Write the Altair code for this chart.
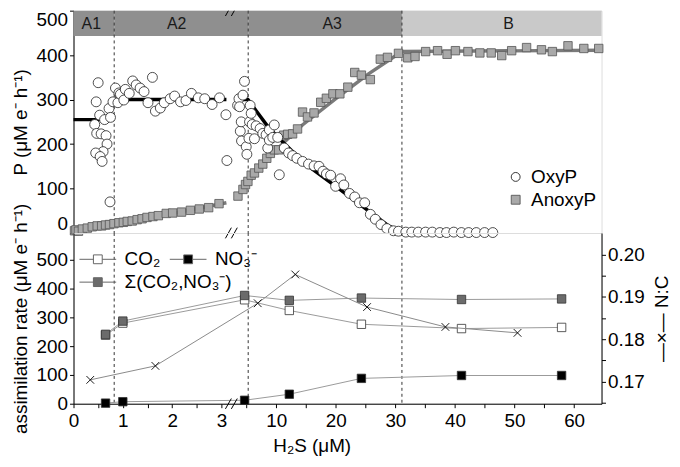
import altair as alt
import pandas as pd

FONT = "Liberation Sans"

# ---------------- data ----------------
# top panel: photosynthesis rates vs H2S
oxy_h2s = [0.50, 0.46, 0.43, 0.53, 0.47, 0.56, 0.66, 0.68, 0.60, 0.45, 0.54, 0.58, 0.63, 0.72,
           0.75, 0.74, 0.85, 0.80, 0.90, 0.92, 0.95, 1.02, 1.05, 1.13, 1.20, 1.27, 1.35, 1.43,
           1.51, 1.60, 1.66, 1.76, 1.84, 1.96, 2.05, 2.17, 2.28, 2.39, 2.53, 2.66, 2.81, 2.96,
           3.09, 3.11,
           3.52, 3.75, 3.85, 3.97, 4.13, 4.18, 4.42, 4.68, 4.97, 5.08, 5.42, 5.52, 5.63, 5.80,
           5.97, 6.35, 6.63, 7.30, 7.75, 8.30, 8.58, 8.85, 8.85, 9.42, 9.68, 10.25, 10.52, 11.35,
           12.08, 12.75, 13.47, 14.42, 15.42, 16.35, 17.18, 17.85, 18.42, 19.13, 19.97, 20.80,
           21.35, 22.30, 23.18, 23.97, 24.85, 25.80, 26.63, 27.58, 28.58, 29.68, 30.52, 31.75,
           32.75, 33.85, 35.07, 36.20, 37.47, 38.58, 39.80, 41.08, 42.30, 43.58, 44.97, 46.35]
oxy_p = [338, 295, 244, 265, 224, 223, 219, 200, 183, 180, 172, 161, 255, 280,
         260, 70, 326, 295, 293, 315, 312, 299, 323, 314, 342, 333, 326, 318,
         293, 350, 274, 281, 293, 302, 308, 295, 298, 314, 304, 302, 289, 304,
         266, 163,
         287, 302, 284, 229, 250, 207, 310, 341, 194, 177, 213, 250, 287, 269,
         244, 212, 241, 235, 224, 221, 191, 232, 209, 215, 243, 215, 131, 191,
         180, 174, 168, 161, 155, 151, 150, 139, 133, 130, 105, 122,
         108, 89, 81, 68, 68, 42, 31, 19, 10, 5, 4, 2,
         2, 2, 2, 2, 1, 1, 2, 1, 1, 1, 1, 1]

anoxy_h2s = [0.02, 0.05, 0.10, 0.18, 0.28, 0.38, 0.48, 0.57, 0.65, 0.73, 0.82, 0.92, 1.01, 1.09,
             1.19, 1.29, 1.39, 1.49, 1.61, 1.72, 1.88, 2.01, 2.19, 2.37, 2.55, 2.74, 2.95,
             3.58, 4.42, 4.85, 5.25, 5.80, 6.35, 7.08, 7.75, 8.42, 9.02, 9.68, 10.42, 11.25,
             11.92, 12.75, 13.58, 14.42, 15.25, 16.35, 17.47, 18.42, 19.52, 20.68, 22.02,
             23.18, 24.30, 25.80, 27.47, 28.68, 30.52, 32.08, 33.30, 35.08, 37.08, 38.68,
             40.08, 42.18, 44.18, 46.08, 47.85, 49.52, 52.02, 54.52, 56.35, 58.97, 61.63, 64.13]
anoxy_p = [5, 7, 4, 9, 11, 14, 16, 16, 18, 19, 21, 23, 24, 26,
           27, 30, 32, 35, 37, 39, 44, 45, 47, 51, 54, 57, 66,
           83, 98, 109, 116, 130, 135, 146, 155, 168, 179, 187, 187, 220,
           222, 223, 234, 272, 261, 270, 294, 303, 313, 313, 328,
           361, 355, 345, 391, 395, 404, 394, 397, 408, 410, 402,
           410, 408, 405, 405, 399, 410, 417, 412, 408, 421, 415, 415]

# fitted model lines (segments split at the axis break and phase boundaries)
oxy_fit_seg = ["a", "a", "b", "b", "c", "c", "c", "c", "c", "c", "c", "c", "c"]
oxy_fit_h2s = [0, 0.825, 0.825, 3.1, 3.5, 5.25, 8.85, 11.6, 15.0, 20.0, 25.5, 28.85, 31.1]
oxy_fit_p = [255, 255, 300, 300, 300, 300, 235, 198, 154, 105, 50, 16, 2]

anoxy_fit_seg = ["a", "a", "b", "b", "b", "b", "b", "b", "b", "b", "b"]
anoxy_fit_h2s = [0, 3.1, 3.5, 5.3, 7.5, 10.0, 14.4, 20.0, 25.5, 31.1, 64.6]
anoxy_fit_p = [0, 68, 82, 112, 150, 187, 243, 302, 358, 408, 411]

# phases
phase_names = ["A1", "A2", "A3", "B"]
phase_start = [0, 0.825, 5.3, 31.1]
phase_end = [0.825, 5.3, 31.1, 64.6]
phase_label_h2s = [0.36, 2.09, 19.4, 49.0]
boundaries = [0.825, 5.3, 31.1]

# bottom panel: assimilation rates and N:C
gas_h2s = [0.65, 1.0, 4.7, 12.2, 24.3, 41.1, 57.9]
co2 = [238, 280, 361, 324, 276, 261, 265]
no3 = [2, 7, 12, 33, 88, 98, 98]
sigma = [241, 287, 376, 359, 367, 362, 364]
nc_h2s = [0.34, 1.66, 6.9, 13.2, 25.25, 38.4, 50.5]
nc = [0.1704, 0.1737, 0.1885, 0.1953, 0.1876, 0.1829, 0.1815]

x_major = [0, 1, 2, 3, 10, 20, 30, 40, 50, 60]
x_minor = [0.5, 1.5, 2.5, 5, 15, 25, 35, 45, 55]
nc_major = [0.17, 0.18, 0.19, 0.20]
nc_minor = [0.165, 0.175, 0.185, 0.195]
p_ticks = [0, 100, 200, 300, 400, 500]

# axis-break marks (two slashes straddling each broken border)
brk_x_start = [3.08, 3.20]
brk_x_end = [3.20, 3.47]

# ---------------- scales ----------------
W = 532
x_scale = alt.Scale(domain=[0, 3.3, 64.6], range=[0, 164, W], nice=False, zero=False)
y_top = alt.Scale(domain=[0, 500], nice=False, zero=False)
y_bot = alt.Scale(domain=[0, 593], nice=False, zero=False)
y_nc = alt.Scale(domain=[0.16476, 0.2051], nice=False, zero=False)

axis_common = dict(labelFontSize=19, titleFontSize=19, labelFont=FONT, titleFont=FONT,
                   tickSize=4, tickColor="black", domainColor="black", labelColor="black",
                   titleColor="black", titleFontWeight="normal", grid=False,
                   labelOverlap=False)

# ---------------- top panel ----------------
bands = pd.DataFrame({"phase": phase_names, "start": phase_start, "end": phase_end,
                      "lab": phase_label_h2s})
y_axis_top = alt.Axis(values=p_ticks, title="P (μM e⁻ h⁻¹)",
                      titlePadding=6, labelFlush=True, **axis_common)

band_rect = alt.Chart(bands).mark_rect().encode(
    x=alt.X("start:Q", scale=x_scale, axis=None),
    x2="end:Q",
    y=alt.Y(datum=443, scale=y_top, axis=y_axis_top),
    y2=alt.Y2(datum=500),
    color=alt.Color("phase:N", scale=alt.Scale(domain=phase_names,
                    range=["#8f8f8f", "#8f8f8f", "#8f8f8f", "#c9c9c9"]), legend=None),
)
band_text = alt.Chart(bands).mark_text(fontSize=16, font=FONT, color="#1a1a1a").encode(
    x=alt.X("lab:Q", scale=x_scale, axis=None),
    y=alt.Y(datum=471, scale=y_top, axis=y_axis_top),
    text="phase:N",
)

bdf = pd.DataFrame({"b": boundaries})
rules_top = alt.Chart(bdf).mark_rule(strokeDash=[3, 3], color="#333", strokeWidth=1).encode(
    x=alt.X("b:Q", scale=x_scale, axis=None))

oxy_fit = pd.DataFrame({"h2s": oxy_fit_h2s, "P": oxy_fit_p, "seg": oxy_fit_seg})
anoxy_fit = pd.DataFrame({"h2s": anoxy_fit_h2s, "P": anoxy_fit_p, "seg": anoxy_fit_seg})

fit_gray = alt.Chart(anoxy_fit).mark_line(color="#7a7a7a", strokeWidth=3.5).encode(
    x=alt.X("h2s:Q", scale=x_scale, axis=None),
    y=alt.Y("P:Q", scale=y_top, axis=y_axis_top),
    detail="seg:N",
)
fit_black = alt.Chart(oxy_fit).mark_line(color="black", strokeWidth=3.5).encode(
    x=alt.X("h2s:Q", scale=x_scale, axis=None),
    y=alt.Y("P:Q", scale=y_top, axis=y_axis_top),
    detail="seg:N",
)

top_leg_common = dict(title=None, orient="none", padding=0, labelFontSize=19, labelFont=FONT,
                      labelColor="black", symbolSize=80, symbolStrokeWidth=0.9, labelOffset=6,
                      legendX=436)

anoxy_df = pd.DataFrame({"h2s": anoxy_h2s, "P": anoxy_p, "type": "AnoxyP"})
oxy_df = pd.DataFrame({"h2s": oxy_h2s, "P": oxy_p, "type": "OxyP"})

pts_anoxy = alt.Chart(anoxy_df).mark_point(filled=True, shape="square", size=72,
                                           stroke="#555", strokeWidth=0.8, opacity=1).encode(
    x=alt.X("h2s:Q", scale=x_scale, axis=None),
    y=alt.Y("P:Q", scale=y_top, axis=y_axis_top),
    fill=alt.Fill("type:N", scale=alt.Scale(domain=["AnoxyP"], range=["#a9a9a9"]),
                  legend=alt.Legend(symbolType="square", symbolStrokeColor="#555",
                                    legendY=181, **top_leg_common)),
)
pts_oxy = alt.Chart(oxy_df).mark_point(filled=True, shape="circle", size=100,
                                       stroke="#222", strokeWidth=0.8, opacity=1).encode(
    x=alt.X("h2s:Q", scale=x_scale, axis=None),
    y=alt.Y("P:Q", scale=y_top, axis=y_axis_top),
    fill=alt.Fill("type:N", scale=alt.Scale(domain=["OxyP"], range=["white"]),
                  legend=alt.Legend(symbolType="circle", symbolStrokeColor="#222",
                                    legendY=158, **top_leg_common)),
)

brk_df = pd.DataFrame({"x1": brk_x_start, "x2": brk_x_end})
brk_top_low = alt.Chart(brk_df).mark_rule(color="black", strokeWidth=1).encode(
    x=alt.X("x1:Q", scale=x_scale, axis=None), x2="x2:Q",
    y=alt.Y(datum=-12, scale=y_top, axis=y_axis_top), y2=alt.Y2(datum=12),
)
brk_top_high = alt.Chart(brk_df).mark_rule(color="black", strokeWidth=1, clip=True).encode(
    x=alt.X("x1:Q", scale=x_scale, axis=None), x2="x2:Q",
    y=alt.Y(datum=488, scale=y_top, axis=y_axis_top), y2=alt.Y2(datum=512),
)

top = alt.layer(band_rect, band_text, rules_top, fit_gray, fit_black, pts_anoxy, pts_oxy,
                brk_top_low, brk_top_high).resolve_scale(fill="independent").properties(
    width=W, height=224)

# ---------------- bottom panel ----------------
gas_names = ["CO₂", "NO₃⁻", "Σ(CO₂,NO₃⁻)"]
gas_long = pd.DataFrame({
    "h2s": gas_h2s * 3,
    "rate": co2 + no3 + sigma,
    "gas": [gas_names[0]] * len(gas_h2s) + [gas_names[1]] * len(gas_h2s) + [gas_names[2]] * len(gas_h2s),
})
gas_a = gas_long[gas_long.gas != gas_names[2]]
gas_b = gas_long[gas_long.gas == gas_names[2]]

LSYM = "M-1,0L-0.24,0M0.24,0L1,0M-0.24,-0.24L0.24,-0.24L0.24,0.24L-0.24,0.24Z"
leg_common = dict(title=None, orient="none", padding=0, labelFontSize=19, labelFont=FONT,
                  labelColor="black", symbolType=LSYM, symbolSize=1369,
                  symbolStrokeColor="#666", symbolStrokeWidth=1, labelOffset=8)

y_axis_bot = alt.Axis(values=p_ticks, title="assimilation rate (μM e⁻ h⁻¹)",
                      titlePadding=6, **axis_common)
x_label_expr = "indexof(" + str(x_major) + ", datum.value) >= 0 ? datum.label : ''"
x_axis_bot = alt.Axis(values=sorted(x_major + x_minor), labelExpr=x_label_expr,
                      title="H₂S (μM)", labelFlush=False, titleX=240,
                      titlePadding=6, labelPadding=4, **axis_common)

rules_bot = alt.Chart(bdf).mark_rule(strokeDash=[3, 3], color="#333", strokeWidth=1).encode(
    x=alt.X("b:Q", scale=x_scale, axis=x_axis_bot))

gas_lines = alt.Chart(gas_long).mark_line(color="#9a9a9a", strokeWidth=1).encode(
    x=alt.X("h2s:Q", scale=x_scale, axis=x_axis_bot),
    y=alt.Y("rate:Q", scale=y_bot, axis=y_axis_bot),
    detail="gas:N",
)
pts_a = alt.Chart(gas_a).mark_point(filled=True, shape="square", size=72, stroke="#333",
                                    strokeWidth=0.8, opacity=1).encode(
    x=alt.X("h2s:Q", scale=x_scale, axis=x_axis_bot),
    y=alt.Y("rate:Q", scale=y_bot, axis=y_axis_bot),
    fill=alt.Fill("gas:N", scale=alt.Scale(domain=gas_names[:2], range=["white", "black"]),
                  legend=alt.Legend(columns=2, columnPadding=7, legendX=5.5, legendY=7.5,
                                    **leg_common)),
)
pts_b = alt.Chart(gas_b).mark_point(filled=True, shape="square", size=72, stroke="#333",
                                    strokeWidth=0.8, opacity=1).encode(
    x=alt.X("h2s:Q", scale=x_scale, axis=x_axis_bot),
    y=alt.Y("rate:Q", scale=y_bot, axis=y_axis_bot),
    fill=alt.Fill("gas:N", scale=alt.Scale(domain=gas_names[2:], range=["#6b6b6b"]),
                  legend=alt.Legend(legendX=5.5, legendY=30.5, **leg_common)),
)
brk_bot = alt.Chart(brk_df).mark_rule(color="black", strokeWidth=1).encode(
    x=alt.X("x1:Q", scale=x_scale, axis=x_axis_bot), x2="x2:Q",
    y=alt.Y(datum=-18, scale=y_bot, axis=y_axis_bot), y2=alt.Y2(datum=18),
)
left_layer = alt.layer(rules_bot, gas_lines, pts_a, pts_b, brk_bot).resolve_scale(fill="independent")

nc_df = pd.DataFrame({"h2s": nc_h2s, "nc": nc})
nc_label_expr = "abs(datum.value * 100 - round(datum.value * 100)) < 0.01 ? datum.label : ''"
y_axis_nc = alt.Axis(orient="right", values=sorted(nc_major + nc_minor), format=".2f",
                     labelExpr=nc_label_expr,
                     title="—×—  N:C", titleAngle=270, titleBaseline="top", titlePadding=8,
                     **axis_common)
XSYM = "M-1,-1L1,1M-1,1L1,-1"
nc_line = alt.Chart(nc_df).mark_line(color="#8a8a8a", strokeWidth=1).encode(
    x=alt.X("h2s:Q", scale=x_scale, axis=x_axis_bot),
    y=alt.Y("nc:Q", scale=y_nc, axis=y_axis_nc),
)
nc_pts = alt.Chart(nc_df).mark_point(shape=XSYM, size=60, color="black", strokeWidth=0.9,
                                     opacity=1).encode(
    x=alt.X("h2s:Q", scale=x_scale, axis=x_axis_bot),
    y=alt.Y("nc:Q", scale=y_nc, axis=y_axis_nc),
)
right_layer = alt.layer(nc_line, nc_pts)

bottom = alt.layer(left_layer, right_layer).resolve_scale(y="independent").properties(
    width=W, height=172)

chart = alt.vconcat(top, bottom, spacing=0, bounds="flush").properties(
    padding={"left": 2, "top": 0, "right": 0, "bottom": 0}
).configure_view(stroke="black", strokeWidth=1).configure(font=FONT)

chart.save("out.html", embed_options={"renderer": "svg", "actions": False})
